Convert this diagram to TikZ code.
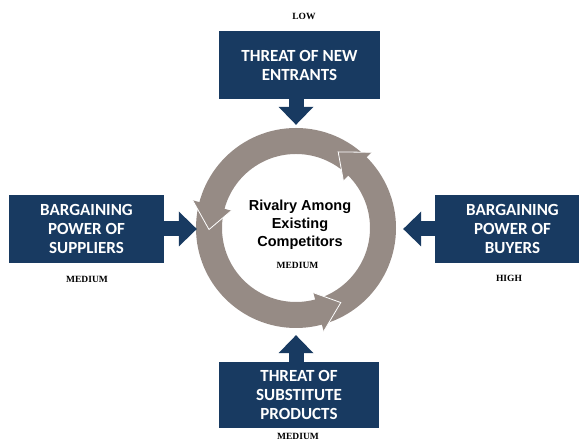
\documentclass[tikz,border=0pt]{standalone}
\usepackage{fontspec}
\setmainfont{Liberation Serif}
\newfontfamily\boxfont{Carlito}
\newfontfamily\ringfont{Liberation Sans}
\usetikzlibrary{positioning, arrows.meta}

\definecolor{forceblue}{RGB}{24,58,97}
\definecolor{ringgray}{RGB}{150,139,133}

\begin{document}
\begin{tikzpicture}[
    x=1pt, y=1pt,
    force_box/.style = {rectangle, fill=forceblue, text=white, minimum width=155pt, minimum height=68pt, align=center, inner sep=0pt, font=\boxfont\bfseries\fontsize{17}{19}\selectfont},
    level/.style = {font=\bfseries\fontsize{9.5}{11}\selectfont},
    force_arrow/.style = {draw=forceblue, line width=15pt, -{Triangle[width=35pt, length=18pt, line width=0pt]}},
    head_edge/.style = {draw=white, line width=0.8pt}
]
\useasboundingbox (0,0) rectangle (579,441);

% --- Central ring: three curved arrows ---
\node[circle, minimum size=200pt, inner sep=0pt] (ring) at (296,213) {};
\fill[ringgray, even odd rule] (ring.center) circle (100) (ring.center) circle (74);
\foreach \a in {45,165,285} {
    \fill[ringgray] ([shift={(\a:67)}]ring.center) -- ([shift={(\a+16:87)}]ring.center) -- ([shift={(\a:107)}]ring.center) -- cycle;
    \draw[head_edge] ([shift={(\a:67)}]ring.center) -- ([shift={(\a+16:87)}]ring.center) -- ([shift={(\a:107)}]ring.center);
}
\node[font=\ringfont\bfseries\fontsize{14.5}{18}\selectfont, align=center] (rivalry) at (300,216) {Rivalry Among\\Existing\\Competitors};
\node[level] (rivalry_level) at (297.5,175.5) {MEDIUM};

% --- The four forces ---
\node[force_box, minimum width=161pt] (entrants) at (299.5,376) {THREAT OF NEW\\ENTRANTS};
\node[force_box] (suppliers) at (86.5,212) {BARGAINING\\POWER OF\\SUPPLIERS};
\node[force_box] (buyers) at (512.5,212) {BARGAINING\\POWER OF\\BUYERS};
\node[force_box, minimum width=160pt, minimum height=66pt] (substitutes) at (299,46) {THREAT OF\\SUBSTITUTE\\PRODUCTS};

% Levels
\node[level] (entrants_level) at (304,425) {LOW};
\node[level] (suppliers_level) at (87,161.5) {MEDIUM};
\node[level] (buyers_level) at (509,162.5) {HIGH};
\node[level, anchor=base] (substitutes_level) at (298,1.5) {MEDIUM};

% --- Arrows into the ring ---
\draw[force_arrow, shorten >=3pt] (entrants.south -| ring.north) -- (ring.north);
\draw[force_arrow, shorten >=-1pt] (suppliers.east) -- (suppliers.east -| ring.west);
\draw[force_arrow, shorten >=7pt] (buyers.west) -- (buyers.west -| ring.east);
\draw[force_arrow, shorten >=7pt] (substitutes.north -| ring.south) -- (ring.south);

\end{tikzpicture}
\end{document}
